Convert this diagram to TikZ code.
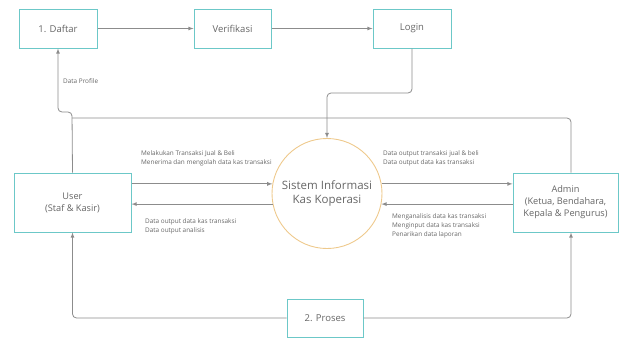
\documentclass[tikz,border=0pt]{standalone}
\usepackage{fontspec}
\setmainfont{Open Sans}
\usepackage{tikz}
\usetikzlibrary{positioning}

\definecolor{boxline}{HTML}{6CC8C8}
\definecolor{circline}{HTML}{EEC98C}
\definecolor{flowline}{HTML}{8C8C8C}
\definecolor{txt}{HTML}{666666}

\begin{document}
\begin{tikzpicture}
    [
    x=1pt, y=1pt,
    proc/.style={rectangle,draw=boxline,line width=1pt,fill=white,text=txt,font=\fontsize{9.5}{11}\selectfont,align=center,inner sep=0pt},
    sys/.style={circle,draw=circline,line width=0.9pt,text=txt,font=\fontsize{11.5}{14}\selectfont,align=center,minimum size=110pt,inner sep=0pt},
    flow/.style={draw=flowline,line width=0.8pt,rounded corners=4pt},
    lbl/.style={text=txt,font=\fontsize{6.4}{9}\selectfont,align=left,inner sep=0pt}
    ]
    \useasboundingbox (0,0) rectangle (619,-338);

    \node (daftar) at (58,-28.5) [proc, minimum width=78pt, minimum height=39pt] {1. Daftar};
    \node (verif) at (232.5,-28.5) [proc, minimum width=77pt, minimum height=39pt] {Verifikasi};
    \node (login) at (412,-28.5) [proc, minimum width=78pt, minimum height=39pt] {Login};
    \node (user) at (72.5,-202.5) [proc, minimum width=117pt, minimum height=59pt, font=\fontsize{9.2}{12}\selectfont] {User\\(Staf \& Kasir)};
    \node (admin) at (565.5,-202.5) [proc, minimum width=105pt, minimum height=59pt, font=\fontsize{9.2}{12}\selectfont] {Admin\\(Ketua, Bendahara,\\Kepala \& Pengurus)};
    \node (proses) at (325,-318) [proc, minimum width=76pt, minimum height=38pt] {2. Proses};
    \node (sis) at (327,-193.5) [sys] {Sistem Informasi\\Kas Koperasi};

    \coordinate (j1) at (327,-93);
    \coordinate (j2) at (72,-112);
    \coordinate (j3) at (72,-118);

    \draw [flow, -latex] (daftar) to (verif);
    \draw [flow, -latex] (verif) to (login);
    \draw [flow, -latex] (login.south) |- (j1) -- (sis.north);
    \draw [flow, -latex] (user.north) -- (j2) -| (daftar.south);
    \draw [flow] (j3) -| ([xshift=5.5pt]admin.north);

    \draw [flow, -latex] (user.east |- sis.170) -- (sis.170);
    \draw [flow, -latex] (sis.191) -- (user.east |- sis.191);
    \draw [flow, -latex] (sis.10) -- (admin.west |- sis.10);
    \draw [flow, -latex] (admin.west |- sis.349) -- (sis.349);

    \draw [flow, -latex] (proses.west) -| (user.south);
    \draw [flow, -latex] (proses.east) -| ([xshift=5.5pt]admin.south);

    \node (l0) at (63,-81) [lbl, anchor=west] {Data Profile};
    \node (l1) at (141,-150) [lbl, anchor=north west] {Melakukan Transaksi Jual \& Beli\\Menerima dan mengolah data kas transaksi};
    \node (l2) at (145,-218) [lbl, anchor=north west] {Data output data kas transaksi\\Data output analisis};
    \node (l3) at (383,-150) [lbl, anchor=north west] {Data output transaksi jual \& beli\\Data output data kas transaksi};
    \node (l4) at (392,-213) [lbl, anchor=north west] {Menganalisis data kas transaksi\\Menginput data kas transaksi\\Penarikan data laporan};
  \end{tikzpicture}
\end{document}
